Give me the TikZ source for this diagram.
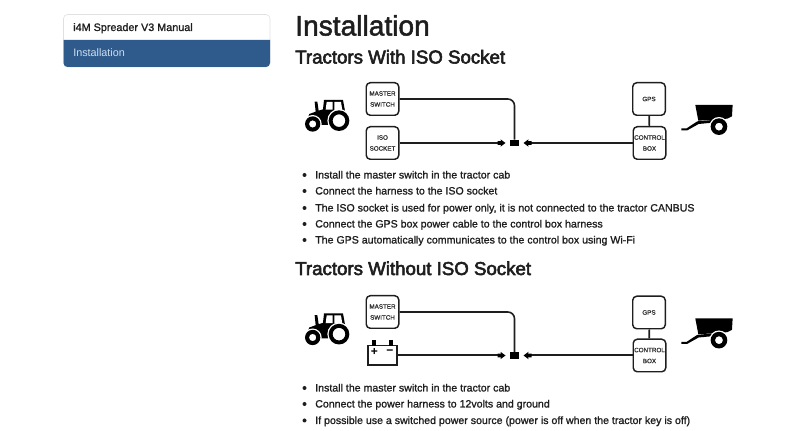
\documentclass[tikz,border=0pt]{standalone}
\usepackage{fontspec}
\setmainfont{Liberation Sans}
\newfontfamily\itemfont[FakeBold=1.2]{Liberation Sans}
\newfontfamily\titlefont[FakeBold=1.8]{Liberation Sans}
\newfontfamily\headfont[FakeBold=3]{Liberation Sans}
\usepackage{tikz}
\definecolor{navblue}{RGB}{47, 90, 140}
\definecolor{navtext}{RGB}{205, 222, 240}
\definecolor{ink}{RGB}{30, 30, 30}

\begin{document}
\begin{tikzpicture}[
   x=0.75pt, y=-0.75pt,
   boxnode/.style={rectangle, draw=ink, fill=white, line width=1.1, rounded corners=3,
                   inner sep=0, minimum size=24.4, align=center, text=black!80,
                   font=\fontsize{4.7}{8.2}\selectfont\itemfont},
   plugnode/.style={rectangle, fill=black, inner sep=0, minimum width=6.6, minimum height=4.6},
   wire/.style={color=ink, line width=1.2},
   titlenode/.style={anchor=base west, inner sep=0, text=ink, font=\fontsize{21.1}{24}\selectfont\titlefont},
   headnode/.style={anchor=base west, inner sep=0, text=ink, font=\fontsize{14}{16}\selectfont\headfont},
   itemnode/.style={anchor=base west, inner sep=0, text=ink, font=\fontsize{7.95}{9}\selectfont\itemfont},
   dotnode/.style={circle, fill=ink, inner sep=0, minimum size=3},
   headpic/.pic={
     \fill[black] (0,0) -- (-5,-3.7) -- (-4.5,-1.8) -- (-8,-1.8) -- (-8,1.8) -- (-4.5,1.8) -- (-5,3.7) -- cycle;
   },
   tractorpic/.pic={
     \fill[black] (54,142) -- (58,132) -- (77,125) -- (74,95) -- (82,95) -- (86,122) -- (99,118)
       -- (102,90) -- (159,90) -- (166,128) -- (172,140) -- (130,165) -- (85,165) -- cycle;
     \fill[white] (110,96) -- (128,96) -- (128,119) -- (107,119) -- cycle;
     \fill[white] (133,96) -- (153,96) -- (157,120) -- (133,120) -- cycle;
     \fill[white] (147,152) circle (35);
     \fill[white] (68,162) circle (27);
     \fill[black, even odd rule] (147,152) circle (31) (147,152) circle (19);
     \fill[black, even odd rule] (68,162) circle (23) (68,162) circle (11);
   },
   trailerpic/.pic={
     \fill[black] (616,105) -- (728,105) -- (726,139) -- (712,146) -- (664,150) -- (625,152) -- cycle;
     \fill[black] (574,175) -- (590,175) -- (622,154) -- (668,150) -- (668,158) -- (626,162) -- (592,181) -- (574,181) -- cycle;
     \fill[white] (687,170) circle (29);
     \fill[black, even odd rule] (687,170) circle (25) (687,170) circle (12);
   }
  ]

  \useasboundingbox (0, 0) rectangle (794, 431);

  % Side menu
  \draw[black!12, fill=white, rounded corners=3] (63.5, 14.5) rectangle (270, 67);
  \fill[navblue] (63.5, 40) -- (270, 40) [rounded corners=3] -- (270, 67) -- (63.5, 67) [sharp corners] -- cycle;
  \node (M1) at (73, 31) [itemnode, font=\fontsize{8.1}{9}\selectfont\itemfont] {i4M Spreader V3 Manual};
  \node (M2) at (73, 57) [itemnode, text=navtext, font=\fontsize{8.1}{9}\selectfont] {Installation};

  % Headings
  \node (T1) at (295, 35.5) [titlenode] {Installation};
  \node (T2) at (295, 63.5) [headnode] {Tractors With ISO Socket};
  \node (T3) at (295, 275) [headnode] {Tractors Without ISO Socket};

  % With ISO socket
  \pic at (290, 70) [scale=0.3333] {tractorpic};
  \pic at (490, 70) [scale=0.3333] {trailerpic};

  \node (N1) at (382.5, 99) [boxnode] {MASTER\\SWITCH};
  \node (N2) at (382.5, 143) [boxnode] {ISO\\SOCKET};
  \node (N3) at (649, 99) [boxnode] {GPS};
  \node (N4) at (649.5, 143) [boxnode] {CONTROL\\BOX};
  \node (P1) at (514.5, 143) [plugnode] {};
  \coordinate (K1) at (498, 143);
  \coordinate (K2) at (531, 143);

  \draw[wire, rounded corners=5] (N1.east) -| (P1.north);
  \draw[wire] (N2) -- (K1);
  \draw[wire] (N4) -- (K2);
  \draw[wire] (N3) -- (N4);
  \pic at (505.5, 143) {headpic};
  \pic at (523.5, 143) [xscale=-1] {headpic};

  \foreach \Y/\T in {178.5/{Install the master switch in the tractor cab},
                     194.5/{Connect the harness to the ISO socket},
                     211.5/{The ISO socket is used for power only, it is not connected to the tractor CANBUS},
                     227.5/{Connect the GPS box power cable to the control box harness},
                     243.5/{The GPS automatically communicates to the control box using Wi-Fi}} {
    \node (D\Y) at (304.5, \Y - 3.5) [dotnode] {};
    \node (L\Y) at (315, \Y) [itemnode] {\T};
  }

  % Without ISO socket
  \pic at (290, 283.5) [scale=0.3333] {tractorpic};
  \pic at (490, 283.5) [scale=0.3333] {trailerpic};

  \node (B1) at (382.5, 355.5) [rectangle, draw=ink, fill=white, line width=1.3, inner sep=0,
                                minimum width=22, minimum height=14.8] {};
  \fill[black] (372, 340) rectangle (376, 346);
  \fill[black] (389, 340) rectangle (393, 346);
  \node (B2) at (374.5, 352) [inner sep=0, font=\fontsize{9}{9}\selectfont\bfseries] {+};
  \node (B3) at (390, 352) [inner sep=0, font=\fontsize{9}{9}\selectfont\bfseries] {−};

  \node (N5) at (382.5, 312) [boxnode] {MASTER\\SWITCH};
  \node (N6) at (649, 312.5) [boxnode] {GPS};
  \node (N7) at (649.5, 355.5) [boxnode] {CONTROL\\BOX};
  \node (P2) at (514.5, 355.5) [plugnode] {};
  \coordinate (K3) at (498, 355.5);
  \coordinate (K4) at (531, 355.5);

  \draw[wire, rounded corners=5] (N5.east) -| (P2.north);
  \draw[wire, line width=1.5] (B1.east) -- (K3);
  \draw[wire, line width=1.5] (N7) -- (K4);
  \draw[wire] (N6) -- (N7);
  \pic at (505.5, 355.5) {headpic};
  \pic at (523.5, 355.5) [xscale=-1] {headpic};

  \foreach \Y/\T in {391.5/{Install the master switch in the tractor cab},
                     407.5/{Connect the power harness to 12volts and ground},
                     424/{If possible use a switched power source (power is off when the tractor key is off)}} {
    \node (D\Y) at (304.5, \Y - 3.5) [dotnode] {};
    \node (L\Y) at (315, \Y) [itemnode] {\T};
  }

\end{tikzpicture}
\end{document}
